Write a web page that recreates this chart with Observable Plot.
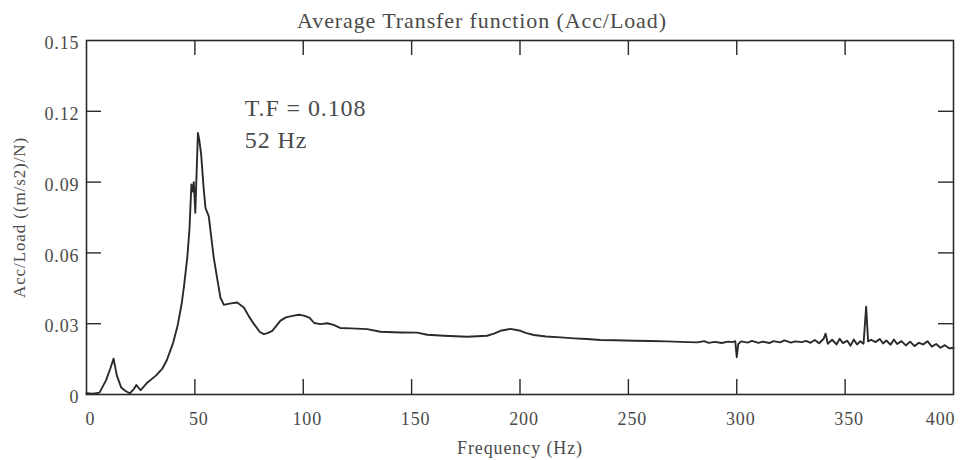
<!DOCTYPE html>
<html><head><meta charset="utf-8">
<script src="https://cdn.jsdelivr.net/npm/d3@7"></script>
<script src="https://cdn.jsdelivr.net/npm/@observablehq/plot@0.6"></script>
<style>
html,body{margin:0;padding:0;background:#fff;}
svg text{letter-spacing:0.9px;}
</style></head><body><div id="chart"></div>
<script>
const title = "Average Transfer function (Acc/Load)";
const xLabel = "Frequency (Hz)";
const yLabel = "Acc/Load ((m/s2)/N)";
const xTicks = [0, 50, 100, 150, 200, 250, 300, 350, 400];
const yTicks = [0, 0.03, 0.06, 0.09, 0.12, 0.15];
const yTickLabels = ["0", "0.03", "0.06", "0.09", "0.12", "0.15"];
const noteLines = ["T.F = 0.108", "52 Hz"];

const freq = [
  0, 3, 6, 9, 11, 12.5, 14, 16, 18, 20, 22, 23, 25, 28, 32, 35, 37, 40, 42, 44,
  45, 46.5, 47.5, 48.4, 49, 49.5, 50.2, 51.4, 52, 52.9, 54, 54.9, 56.4, 58.7, 60.5, 61.8, 63.4, 66, 69.5, 72.6,
  75, 77.2, 80, 81.8, 83.5, 85.7, 89.5, 92, 95.6, 98, 100.3, 103, 105, 108, 111, 114, 117, 122, 129.5, 135.6,
  145, 152.6, 157.2, 165, 175.6, 184.8, 188, 191, 195.6, 200.2, 203, 206.4, 212, 218.7, 225, 231, 237, 244, 252.5, 260,
  267.9, 274, 281.7, 285, 287, 290, 293, 296, 298, 299.3, 300, 300.7, 302, 305, 307, 310, 312, 315, 317, 320,
  322, 325, 327, 330, 332, 334, 336, 338, 340, 341, 342, 344, 346, 347.5, 349, 351, 352.5, 354, 355.5, 357,
  358.5, 359.7, 360.6, 362, 364, 366, 367.5, 369, 371, 372.5, 374, 376, 378, 380, 382, 384, 386, 388, 390, 392,
  394, 396, 398, 400
];
const amp = [
  0.0005, 0.0003, 0.0008, 0.006, 0.011, 0.0152, 0.008, 0.003, 0.0015, 0.0005, 0.0025, 0.004, 0.0018, 0.005, 0.008, 0.011, 0.0144, 0.022, 0.029, 0.039,
  0.046, 0.058, 0.070, 0.089, 0.086, 0.090, 0.077, 0.1108, 0.108, 0.1017, 0.088, 0.079, 0.0756, 0.058, 0.048, 0.041, 0.038, 0.0385, 0.039, 0.0369,
  0.033, 0.0299, 0.0265, 0.0256, 0.026, 0.027, 0.0313, 0.0327, 0.0334, 0.0338, 0.0334, 0.0325, 0.0303, 0.0298, 0.0302, 0.0295, 0.0282, 0.028, 0.0277, 0.0266,
  0.0263, 0.0262, 0.0253, 0.0249, 0.0245, 0.0249, 0.0258, 0.027, 0.0278, 0.027, 0.026, 0.0252, 0.0246, 0.0242, 0.0238, 0.0235, 0.0231, 0.0230, 0.0228, 0.0227,
  0.0225, 0.0223, 0.0221, 0.0226, 0.0219, 0.0223, 0.0218, 0.0224, 0.0222, 0.0226, 0.0158, 0.0214, 0.0225, 0.022, 0.0227, 0.0219, 0.0224, 0.0218, 0.0226, 0.0221,
  0.0229, 0.022, 0.0225, 0.0222, 0.0227, 0.0219, 0.0231, 0.0217, 0.0235, 0.0258, 0.0215, 0.0232, 0.0212, 0.0236, 0.0218, 0.0228, 0.0207, 0.0233, 0.0212, 0.0226,
  0.0215, 0.0372, 0.0225, 0.0232, 0.0222, 0.0235, 0.0216, 0.0229, 0.0211, 0.0233, 0.0214, 0.0226, 0.0208, 0.0224, 0.0205, 0.0219, 0.0212, 0.0226, 0.0203, 0.0214,
  0.0198, 0.0209, 0.0196, 0.0197
];

const data = freq.map((f, i) => ({f, v: amp[i]}));
const W = 961, H = 460, mL = 86, mR = 8, mT = 40, mB = 66;
const fw = W - mL - mR, fh = H - mT - mB;
const tk = 15;
const inner = xTicks.slice(1, -1);
const innerY = yTicks.slice(1, -1);
const ink = "#2a2a2a", gray = "#4a4a4a";

const chart = Plot.plot({
  width: W, height: H,
  marginLeft: mL, marginRight: mR, marginTop: mT, marginBottom: mB,
  style: {fontFamily: "'Liberation Serif', 'Times New Roman', serif", background: "#fff", color: gray},
  x: {domain: [0, 400]},
  y: {domain: [0, 0.15]},
  marks: [
    Plot.frame({stroke: ink, strokeWidth: 1.6}),
    Plot.ruleX(inner, {x: d => d, insetTop: fh - tk, stroke: ink, strokeWidth: 1.4}),
    Plot.ruleX(inner, {x: d => d, insetBottom: fh - tk, stroke: ink, strokeWidth: 1.4}),
    Plot.ruleY(innerY, {y: d => d, insetRight: fw - tk, stroke: ink, strokeWidth: 1.4}),
    Plot.ruleY(innerY, {y: d => d, insetLeft: fw - tk, stroke: ink, strokeWidth: 1.4}),
    Plot.axisX({ticks: xTicks.slice(0, -1), tickSize: 0, tickPadding: 18, fontSize: 18, dx: 4, label: null, fill: gray}),
    Plot.axisX({ticks: xTicks.slice(-1), tickSize: 0, tickPadding: 18, fontSize: 18, dx: 2, textAnchor: "end", label: null, fill: gray}),
    Plot.axisY({ticks: yTicks, tickFormat: d => yTickLabels[yTicks.indexOf(d)], tickSize: 0, tickPadding: 7, dy: 3, fontSize: 18, label: null, fill: gray}),
    Plot.line(data, {x: "f", y: "v", stroke: ink, strokeWidth: 1.9, curve: "linear"}),
    Plot.text([noteLines.join("\n")], {x: 73, y: 0.1278, textAnchor: "start", lineAnchor: "top", lineHeight: 1.35, fontSize: 24, fill: gray}),
    Plot.text([title], {frameAnchor: "top", lineAnchor: "middle", dy: -20, dx: -38, fontSize: 22, fill: gray}),
    Plot.text([xLabel], {frameAnchor: "bottom", lineAnchor: "middle", dy: 54, fontSize: 18, fill: gray}),
    Plot.text([yLabel], {frameAnchor: "left", textAnchor: "middle", rotate: -90, dx: -67, fontSize: 17, fill: gray})
  ]
});
document.getElementById("chart").appendChild(chart);
</script>
</body></html>
